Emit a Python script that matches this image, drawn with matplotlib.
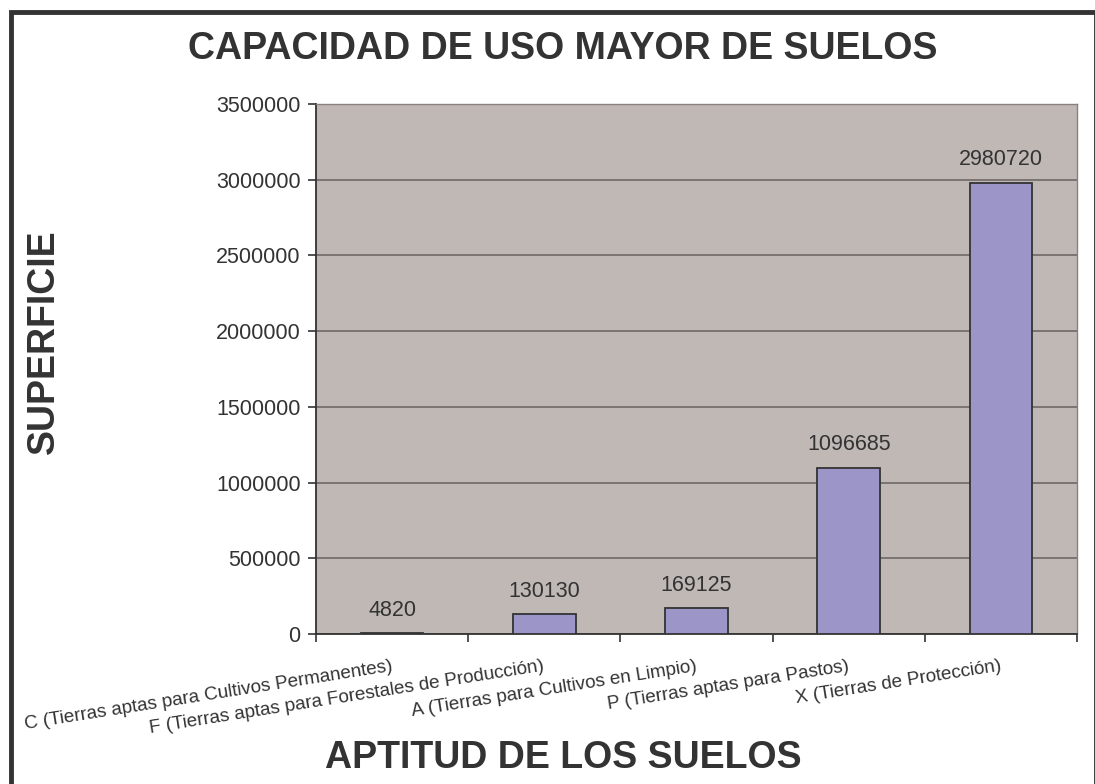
import matplotlib
matplotlib.use("Agg")
import matplotlib.pyplot as plt
from matplotlib.patches import Rectangle

categories = [
    "C (Tierras aptas para Cultivos Permanentes)",
    "F (Tierras aptas para Forestales de Producción)",
    "A (Tierras para Cultivos en Limpio)",
    "P (Tierras aptas para Pastos)",
    "X (Tierras de Protección)",
]
values = [4820, 130130, 169125, 1096685, 2980720]
yticks = [0, 500000, 1000000, 1500000, 2000000, 2500000, 3000000, 3500000]

title = "CAPACIDAD DE USO MAYOR DE SUELOS"
xlabel = "APTITUD DE LOS SUELOS"
ylabel = "SUPERFICIE"

W, H = 1095, 784
plt.rcParams['font.family'] = ['Liberation Sans', 'DejaVu Sans']
txt = '#333333'

fig = plt.figure(figsize=(W / 100, H / 100), dpi=100)
fig.patch.set_facecolor('white')

def fx(px):
    return px / W

def fy(py):
    return 1 - py / H

ax = fig.add_axes([fx(316), fy(634), fx(1077) - fx(316), (634 - 104) / H])
ax.set_facecolor('#C0B8B5')

x = list(range(len(categories)))
ax.bar(x, values, width=0.41, color='#9C95C8', edgecolor='#333333',
       linewidth=1.3, zorder=3)

ax.set_xlim(-0.5, len(categories) - 0.5)
ax.set_ylim(0, 3500000)
ax.set_yticks(yticks)
ax.set_yticklabels([str(v) for v in yticks], fontsize=15.5, color=txt)
ax.yaxis.grid(True, color='#6E6868', linewidth=1.2, zorder=1)
ax.set_axisbelow(True)

# category boundary ticks
ax.set_xticks([i - 0.5 for i in range(len(categories) + 1)])
ax.set_xticklabels([])
ax.tick_params(axis='x', direction='out', length=6, width=1.2, color='#333333')
ax.tick_params(axis='y', direction='out', length=6, width=1.2, color='#333333', pad=5)

for i, c in enumerate(categories):
    ax.annotate(c, xy=(i, 0), xycoords=('data', 'axes fraction'),
                xytext=(-1, -17), textcoords='offset points',
                ha='right', va='top', rotation=9, rotation_mode='anchor',
                fontsize=13.6, color=txt)

for i, v in enumerate(values):
    ax.annotate(str(v), xy=(i, v), xytext=(0, 9), textcoords='offset points',
                ha='center', va='bottom', fontsize=15.5, color=txt)

for s in ['top', 'right']:
    ax.spines[s].set_color('#8A8080')
    ax.spines[s].set_linewidth(1.0)
for s in ['left', 'bottom']:
    ax.spines[s].set_color('#333333')
    ax.spines[s].set_linewidth(1.3)

fig.text(fx(563), fy(49), title, ha='center', va='center', fontsize=27,
         fontweight='bold', color=txt)
fig.text(fx(563), fy(758), xlabel, ha='center', va='center', fontsize=27,
         fontweight='bold', color=txt)
fig.text(fx(44), fy(342), ylabel, ha='center', va='center', fontsize=27,
         fontweight='bold', color=txt, rotation=90)

# outer chart border
fig.patches.append(Rectangle((fx(10.5), fy(800)), fx(1095.5) - fx(10.5), (800 - 12) / H,
                             transform=fig.transFigure, fill=False,
                             edgecolor='#333333', linewidth=3.5))

fig.savefig('out.png', dpi=100)
